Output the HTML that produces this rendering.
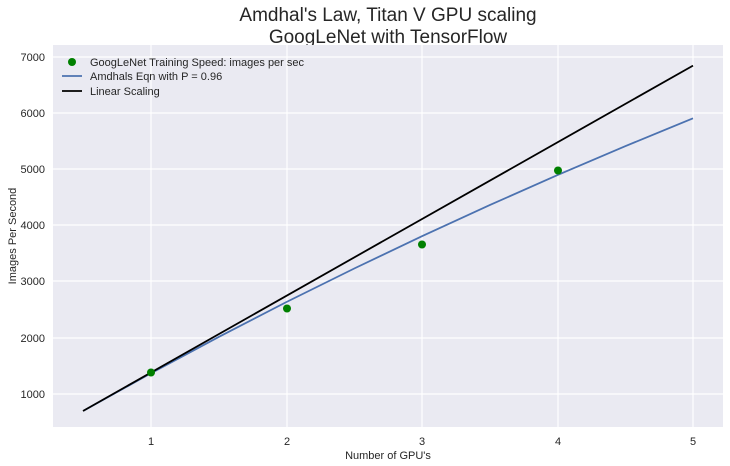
<!DOCTYPE html>
<html><head><style>body{margin:0;background:#fff}svg{display:block}</style></head><body>
<svg width="730" height="466" xmlns="http://www.w3.org/2000/svg" font-family="'Liberation Sans', sans-serif">
<rect width="730" height="466" fill="#fff"/>
<text x="388" y="21" font-size="19" text-anchor="middle" fill="#262626">Amdhal's Law, Titan V GPU scaling</text>
<text x="388" y="43" font-size="19" text-anchor="middle" fill="#262626">GoogLeNet with TensorFlow</text>
<rect x="53" y="45" width="670" height="382" fill="#eaeaf2"/>
<g stroke="#fff" stroke-width="1.2">
<line x1="151" y1="45" x2="151" y2="427"/><line x1="287" y1="45" x2="287" y2="427"/><line x1="422" y1="45" x2="422" y2="427"/><line x1="558" y1="45" x2="558" y2="427"/><line x1="693" y1="45" x2="693" y2="427"/>
<line x1="53" y1="57" x2="723" y2="57"/><line x1="53" y1="113" x2="723" y2="113"/><line x1="53" y1="169" x2="723" y2="169"/><line x1="53" y1="225" x2="723" y2="225"/><line x1="53" y1="281" x2="723" y2="281"/><line x1="53" y1="338" x2="723" y2="338"/><line x1="53" y1="394" x2="723" y2="394"/>
</g>
<g font-size="11" fill="#262626" text-anchor="end">
<text x="45" y="61">7000</text><text x="45" y="117">6000</text><text x="45" y="173">5000</text><text x="45" y="229">4000</text><text x="45" y="285">3000</text><text x="45" y="342">2000</text><text x="45" y="398">1000</text>
</g>
<g font-size="11" fill="#262626" text-anchor="middle">
<text x="151" y="445">1</text><text x="287" y="445">2</text><text x="422" y="445">3</text><text x="558" y="445">4</text><text x="693" y="445">5</text>
<text x="388" y="459">Number of GPU's</text>
<text transform="translate(16,236) rotate(-90)">Images Per Second</text>
</g>
<polyline fill="none" stroke="#4c72b0" stroke-width="1.8" points="83.25,410.9 151,373.2 218.75,336.9 286.5,302 354.25,268.5 422,236.2 489.75,205.1 557.5,175.1 625.25,146.2 693,118.3"/>
<line x1="83" y1="411" x2="693" y2="65.6" stroke="#000" stroke-width="1.8"/>
<g fill="#008000"><circle cx="151" cy="372.5" r="4"/><circle cx="287" cy="308.5" r="4"/><circle cx="422" cy="244.5" r="4"/><circle cx="558" cy="170.5" r="4"/></g>
<circle cx="72" cy="62" r="4" fill="#008000"/>
<line x1="62" y1="76" x2="82" y2="76" stroke="#4c72b0" stroke-width="1.8"/>
<line x1="62" y1="91" x2="82" y2="91" stroke="#000" stroke-width="1.8"/>
<g font-size="11" fill="#262626">
<text x="90" y="66">GoogLeNet Training Speed: images per sec</text>
<text x="90" y="80">Amdhals Eqn with P = 0.96</text>
<text x="90" y="95">Linear Scaling</text>
</g>
</svg>
</body></html>
